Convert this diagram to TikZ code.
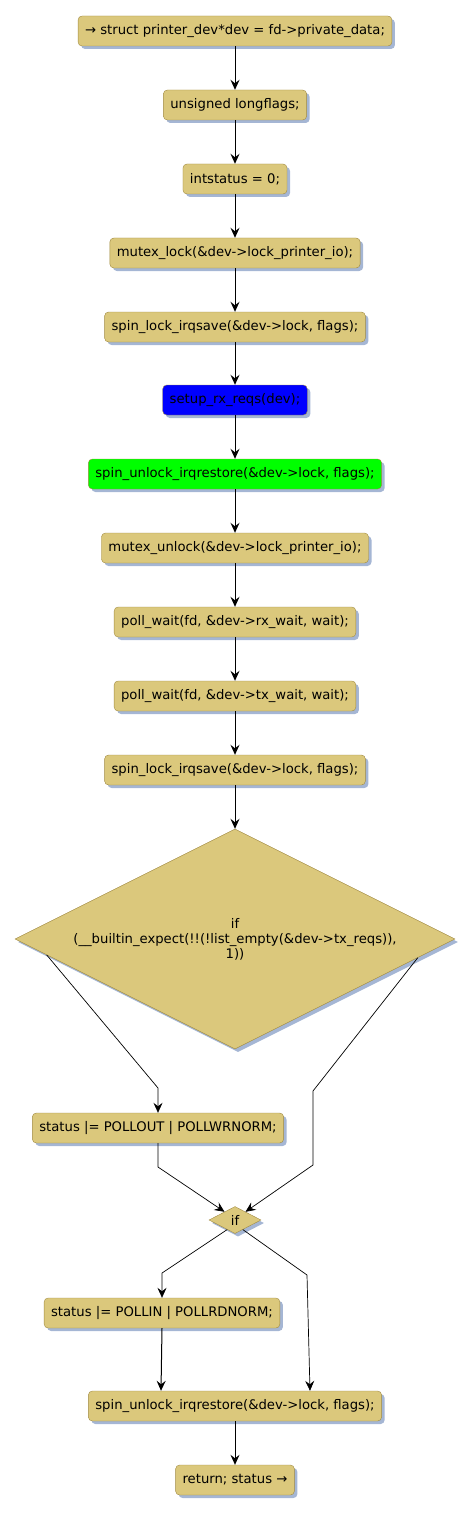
\documentclass[tikz,border=0pt]{standalone}
\usepackage{fontspec}
\setmainfont{DejaVu Sans}
\usetikzlibrary{arrows.meta,shapes.geometric,shadows,calc}
\definecolor{actfill}{RGB}{219,200,124}
\definecolor{actline}{RGB}{160,138,66}
\definecolor{actshade}{RGB}{165,182,212}

\begin{document}
\begin{tikzpicture}[
      x=1pt, y=-1pt,
      act/.style={
        rectangle, rounded corners=4pt, draw=actline, fill=actfill,
        minimum height=30pt, inner xsep=7pt,
        font=\fontsize{13.2}{15}\selectfont,
        drop shadow={shadow xshift=3pt, shadow yshift=-3pt, fill=actshade, opacity=1}
      },
      cond/.style={
        act, diamond, aspect=2, rounded corners=0pt, inner sep=0pt, align=center
      },
      flow/.style={-{Stealth[length=10pt, width=9pt, inset=3.5pt]}, line width=1pt},
      branch/.style={flow, line width=0.7pt}
    ]
    \useasboundingbox (0,0) rectangle (474,1514);

    % Straight sequence of statements.
    \node[act]  (n1)  at (235,  31) {→ struct printer\_dev*dev = fd->private\_data;};
    \node[act]  (n2)  at (235, 105) {unsigned longflags;};
    \node[act]  (n3)  at (235, 179) {intstatus = 0;};
    \node[act]  (n4)  at (235, 253) {mutex\_lock(\&dev->lock\_printer\_io);};
    \node[act]  (n5)  at (235, 327) {spin\_lock\_irqsave(\&dev->lock, flags);};
    \node[act, fill=blue]  (n6) at (235, 400) {setup\_rx\_reqs(dev);};
    \node[act, fill=green] (n7) at (235, 474) {spin\_unlock\_irqrestore(\&dev->lock, flags);};
    \node[act]  (n8)  at (235, 548) {mutex\_unlock(\&dev->lock\_printer\_io);};
    \node[act]  (n9)  at (235, 622) {poll\_wait(fd, \&dev->rx\_wait, wait);};
    \node[act]  (n10) at (235, 696) {poll\_wait(fd, \&dev->tx\_wait, wait);};
    \node[act]  (n11) at (235, 770) {spin\_lock\_irqsave(\&dev->lock, flags);};

    % Branches.
    \node[cond, minimum width=440pt, minimum height=220pt] (d1) at (235, 939)
      {if\\(\_\_builtin\_expect(!!(!list\_empty(\&dev->tx\_reqs)),\\1))};
    \node[act]  (p1)  at (158, 1128) {status |= POLLOUT | POLLWRNORM;};
    \node[cond, minimum width=52pt, minimum height=27pt] (d2) at (235, 1220) {if};
    \node[act]  (p2)  at (162, 1313) {status |= POLLIN | POLLRDNORM;};
    \node[act]  (f)   at (235, 1406) {spin\_unlock\_irqrestore(\&dev->lock, flags);};
    \node[act]  (r)   at (235, 1480) {return; status →};

    % Bend points.
    \coordinate (kl)  at (158, 1088);
    \coordinate (kr1) at (313, 1091);
    \coordinate (kr2) at (313, 1165);
    \coordinate (kp)  at (158, 1167);
    \coordinate (ks1) at (162, 1273);
    \coordinate (ks2) at (307, 1275);

    \draw[flow] (n1) -- (n2);
    \draw[flow] (n2) -- (n3);
    \draw[flow] (n3) -- (n4);
    \draw[flow] (n4) -- (n5);
    \draw[flow] (n5) -- (n6);
    \draw[flow] (n6) -- (n7);
    \draw[flow] (n7) -- (n8);
    \draw[flow] (n8) -- (n9);
    \draw[flow] (n9) -- (n10);
    \draw[flow] (n10) -- (n11);
    \draw[flow] (n11) -- (d1.north);

    \draw[branch] ($(d1.west)!0.145!(d1.south)$) -- (kl) -- (p1.north);
    \draw[branch] ($(d1.east)!0.17!(d1.south)$) -- (kr1) -- (kr2)
                  -- ($(d2.north)!0.4!(d2.east)$);
    \draw[branch] (p1.south) -- (kp) -- ($(d2.west)!0.6!(d2.north)$);
    \draw[branch] ($(d2.west)!0.7!(d2.south)$) -- (ks1) -- (p2.north);
    \draw[branch] ($(d2.south)!0.3!(d2.east)$) -- (ks2) -- ($(f.north)+(75,0)$);
    \draw[flow]   (p2.south) -- ($(f.north)+(-74,0)$);
    \draw[flow]   (f) -- (r);
  \end{tikzpicture}
\end{document}
